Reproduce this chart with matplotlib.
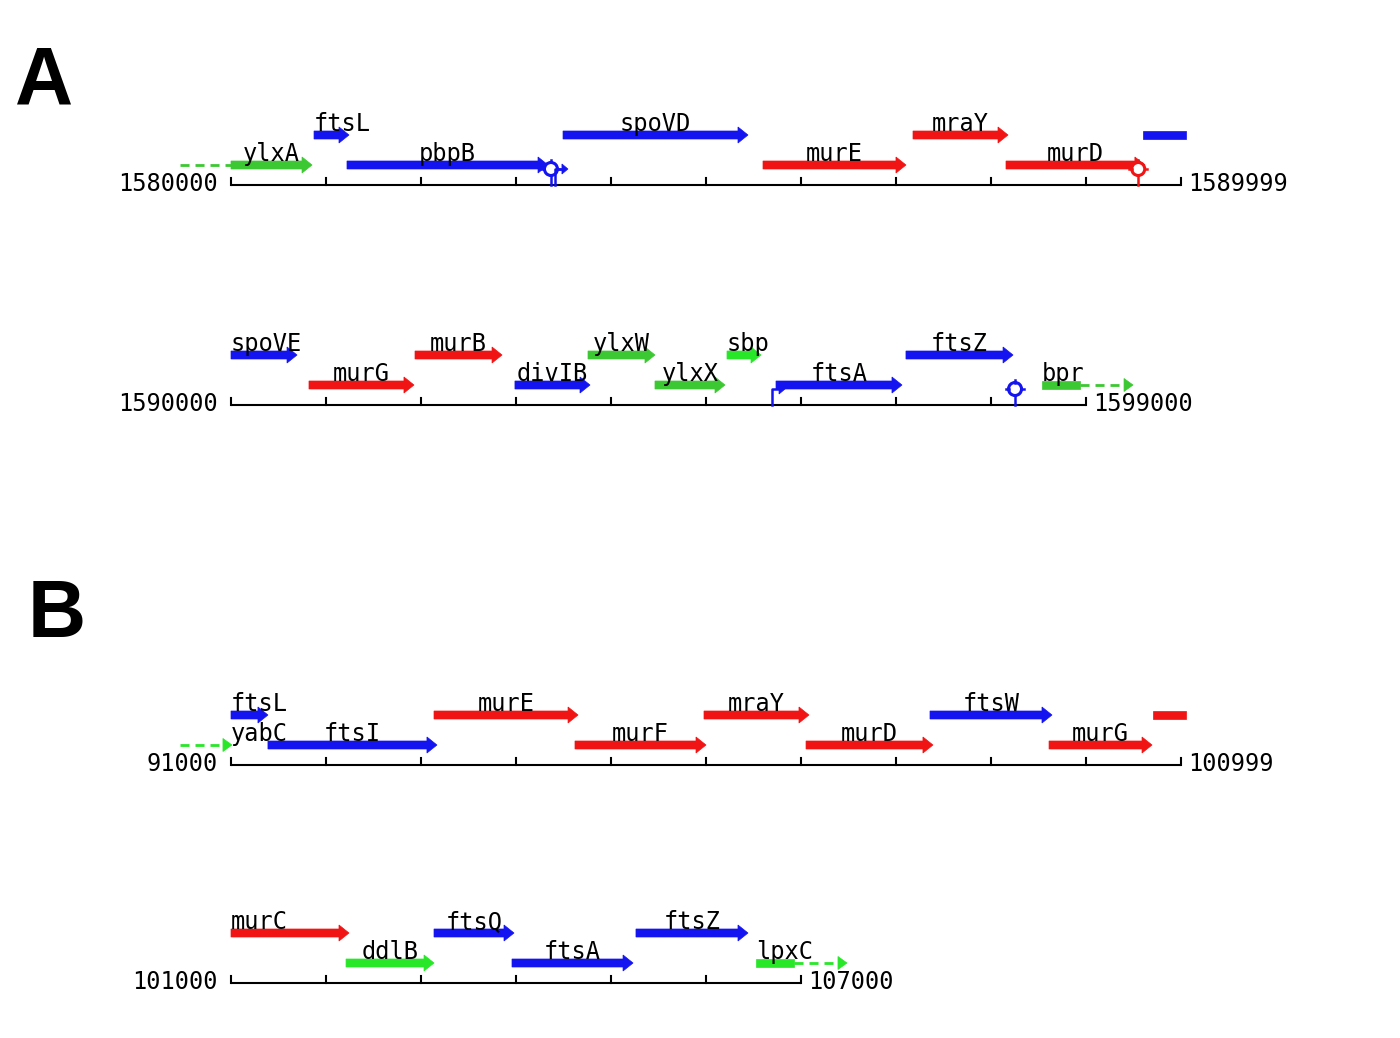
import matplotlib
matplotlib.use("Agg")
import matplotlib.pyplot as plt
from matplotlib.patches import Polygon, Ellipse

# ---- data (bp coordinates) ----
# panel A, first line
a1_window = (1580000, 1589999)
a1_names = ["ylxA", "ftsL", "pbpB", "spoVD", "murE", "mraY", "murD", ""]
a1_start = [1580000, 1580874, 1581221, 1583495, 1585600, 1587179, 1588158, 1589600]
a1_end = [1580853, 1581242, 1583337, 1585442, 1587105, 1588179, 1589620, 1590053]
a1_level = [0, 1, 0, 1, 0, 1, 0, 1]
a1_color = ["g", "b", "b", "b", "r", "r", "r", "b"]
a1_style = ["arrow", "arrow", "arrow", "arrow", "arrow", "arrow", "arrow", "bar"]
a1_ext = [(1579460, 1580000, 0, "g", False)]
a1_term = [(1583368, "b"), (1589550, "r")]
a1_prom = [(1583410, "b")]

# panel A, second line
a2_window = (1590000, 1599000)
a2_names = ["spoVE", "murG", "murB", "divIB", "ylxW", "ylxX", "sbp", "ftsA", "ftsZ", "bpr"]
a2_start = [1590000, 1590821, 1591937, 1592989, 1593758, 1594463, 1595221, 1595737, 1597105, 1598537]
a2_end = [1590695, 1591926, 1592853, 1593779, 1594463, 1595200, 1595579, 1597063, 1598232, 1598937]
a2_level = [1, 0, 1, 0, 1, 0, 1, 0, 1, 0]
a2_color = ["b", "r", "r", "b", "g", "g", "lg", "b", "b", "g"]
a2_style = ["arrow"] * 9 + ["bar"]
a2_ext = [(1598937, 1599495, 0, "g", True)]
a2_term = [(1598253, "b")]
a2_prom = [(1595695, "b")]

# panel B, first line
b1_window = (91000, 100999)
b1_names = ["yabC", "ftsL", "ftsI", "murE", "murF", "mraY", "murD", "ftsW", "murG", ""]
b1_start = [90463, 91000, 91389, 93137, 94621, 95979, 97053, 98358, 99611, 100705]
b1_end = [91010, 91389, 93168, 94653, 96000, 97084, 98389, 99642, 100695, 101053]
b1_level = [0, 1, 0, 1, 0, 1, 0, 1, 0, 1]
b1_color = ["lg", "b", "b", "r", "r", "r", "r", "b", "r", "r"]
b1_style = ["dash"] + ["arrow"] * 8 + ["bar"]
b1_ext = []
b1_term = []
b1_prom = []

# panel B, second line
b2_window = (101000, 107000)
b2_names = ["murC", "ddlB", "ftsQ", "ftsA", "ftsZ", "lpxC"]
b2_start = [101000, 102211, 103137, 103958, 105263, 106526]
b2_end = [102242, 103137, 103979, 105232, 106442, 106926]
b2_level = [1, 0, 1, 0, 1, 0]
b2_color = ["r", "lg", "b", "b", "b", "lg"]
b2_style = ["arrow"] * 5 + ["bar"]
b2_ext = [(106926, 107484, 0, "lg", True)]
b2_term = []
b2_prom = []
left_labels = ["murC"]

# ---- layout ----
W, H = 1400, 1038
PX_PER_BP = 0.095
BP = 1 / PX_PER_BP          # bp per pixel
X0 = 231                    # pixel where every line starts
LEVEL_Y = [20, 50]          # pixels above the line
COLORS = {"b": "#1414f0", "r": "#f01414", "g": "#3cc832", "lg": "#28e628"}
FS = 17
MONO = "DejaVu Sans Mono"
CHAR_PX = 0.602 * FS * 100 / 72

plt.rcParams["lines.scale_dashes"] = False
fig = plt.figure(figsize=(W / 100, H / 100), dpi=100)


def arrow(ax, s, e, y, c, head=True, bar_h=4, head_h=8, head_l=10):
    hl = head_l * BP
    if head:
        pts = [(s, y - bar_h), (e - hl, y - bar_h), (e - hl, y - head_h), (e, y),
               (e - hl, y + head_h), (e - hl, y + bar_h), (s, y + bar_h)]
    else:
        pts = [(s, y - bar_h), (e, y - bar_h), (e, y + bar_h), (s, y + bar_h)]
    ax.add_patch(Polygon(pts, closed=True, fc=c, ec=c, lw=0.5))


def dashed(ax, s, e, y, c, head):
    stop = e - 8 * BP if head else e
    ax.plot([s, stop], [y, y], color=c, lw=2, dashes=(6.5, 4.3), solid_capstyle="butt")
    if head:
        hl = 9 * BP
        ax.add_patch(Polygon([(e - hl, y - 6.5), (e, y), (e - hl, y + 6.5)], closed=True, fc=c, ec=c, lw=0.5))


def track(axis_y, window, names, starts, ends, levels, colors, styles, ext, term, prom):
    ax = fig.add_axes([0, 1 - (axis_y + 40) / H, 1, 120 / H])
    w0, w1 = window
    ax.set_xlim(w0 - X0 * BP, w0 + (W - X0) * BP)
    ax.set_ylim(-40, 80)
    ax.axis("off")

    # scale line with ticks
    ax.plot([w0, w1], [0, 0], color="black", lw=1.5, solid_capstyle="butt")
    ticks = list(range(w0, w1 + 1, 1000))
    if ticks[-1] != w1:
        ticks.append(w1)
    for t in ticks:
        ax.plot([t, t], [0, 7], color="black", lw=1.5)
    ax.text(w0 - 13 * BP, -6, str(w0), ha="right", va="baseline", fontsize=FS, family=MONO)
    ax.text(w1 + 7 * BP, -6, str(w1), ha="left", va="baseline", fontsize=FS, family=MONO)

    for s, e, lv, c, hd in ext:
        dashed(ax, s, e, LEVEL_Y[lv], COLORS[c], hd)

    for n, s, e, lv, c, st in zip(names, starts, ends, levels, colors, styles):
        y = LEVEL_Y[lv]
        col = COLORS[c]
        if st == "dash":
            dashed(ax, s, e, y, col, True)
        else:
            arrow(ax, s, e, y, col, head=(st == "arrow"))
        if not n:
            continue
        vs, ve = max(s, w0), min(e, w1)
        if n in left_labels or len(n) * CHAR_PX > (ve - vs) / BP:
            ax.text(vs, y + 4, n, ha="left", va="baseline", fontsize=FS, family=MONO)
        else:
            ax.text((vs + ve) / 2, y + 4, n, ha="center", va="baseline", fontsize=FS, family=MONO)

    for x, c in term:
        col = COLORS[c]
        ax.plot([x, x], [0, 9], color=col, lw=1.8)
        ax.add_patch(Ellipse((x, 16), 13 * BP, 13, fc="white", ec=col, lw=2.2))
        ax.plot([x, x], [22.5, 25], color=col, lw=1.8)
        ax.plot([x - 9 * BP, x - 6.5 * BP], [16, 16], color=col, lw=1.8)
        ax.plot([x + 6.5 * BP, x + 9 * BP], [16, 16], color=col, lw=1.8)

    for x, c in prom:
        col = COLORS[c]
        ax.plot([x, x, x + 8 * BP], [0, 16, 16], color=col, lw=1.8)
        ax.add_patch(Polygon([(x + 7 * BP, 11), (x + 13 * BP, 16), (x + 7 * BP, 21)],
                             closed=True, fc=col, ec=col, lw=0.5))


track(185, a1_window, a1_names, a1_start, a1_end, a1_level, a1_color, a1_style, a1_ext, a1_term, a1_prom)
track(405, a2_window, a2_names, a2_start, a2_end, a2_level, a2_color, a2_style, a2_ext, a2_term, a2_prom)
track(765, b1_window, b1_names, b1_start, b1_end, b1_level, b1_color, b1_style, b1_ext, b1_term, b1_prom)
track(983, b2_window, b2_names, b2_start, b2_end, b2_level, b2_color, b2_style, b2_ext, b2_term, b2_prom)

fig.text(15 / W, 1 - 103 / H, "A", fontsize=58, fontweight="bold", family="Liberation Sans", va="baseline")
fig.text(28 / W, 1 - 637 / H, "B", fontsize=58, fontweight="bold", family="Liberation Sans", va="baseline")

fig.savefig("out.png", dpi=100)
